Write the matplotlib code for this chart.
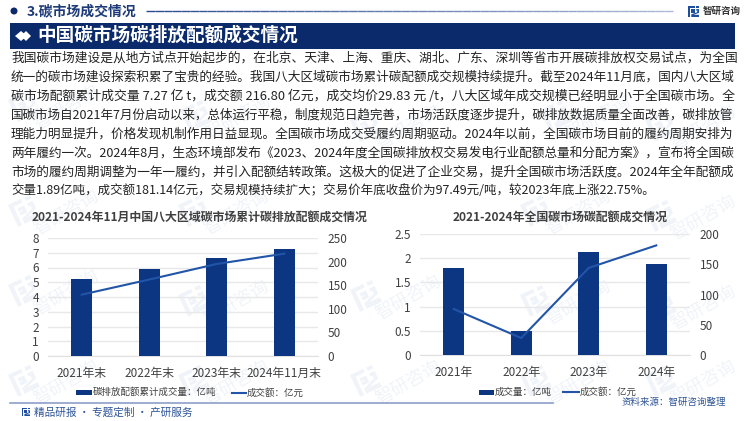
# -*- coding: utf-8 -*-
# 碳市场成交情况 チャート再現
import numpy as np
import matplotlib
matplotlib.use("Agg")
import matplotlib.pyplot as plt
from matplotlib.patches import Rectangle, Polygon, Circle
from matplotlib.lines import Line2D

plt.rcParams['font.family'] = ['Noto Sans CJK SC', 'DejaVu Sans']

W, H = 750, 421

# データ
left_labels = ["2021年末", "2022年末", "2023年末", "2024年11月末"]
left_volume = [5.25, 5.87, 6.62, 7.27]
left_amount = [130, 162, 195, 216.8]
right_labels = ["2021年", "2022年", "2023年", "2024年"]
right_volume = [1.8, 0.5, 2.12, 1.89]
right_amount = [76, 28, 144, 181.14]

left_title = "2021-2024年11月中国八大区域碳市场累计碳排放配额成交情况"
right_title = "2021-2024年全国碳市场碳配额成交情况"

body_lines = [
    "我国碳市场建设是从地方试点开始起步的，在北京、天津、上海、重庆、湖北、广东、深圳等省市开展碳排放权交易试点，为全国",
    "统一的碳市场建设探索积累了宝贵的经验。我国八大区域碳市场累计碳配额成交规模持续提升。截至2024年11月底，国内八大区域",
    "碳市场配额累计成交量 7.27 亿 t，成交额 216.80 亿元，成交均价29.83 元 /t，八大区域年成交规模已经明显小于全国碳市场。全",
    "国碳市场自2021年7月份启动以来，总体运行平稳，制度规范日趋完善，市场活跃度逐步提升，碳排放数据质量全面改善，碳排放管",
    "理能力明显提升，价格发现机制作用日益显现。全国碳市场成交受履约周期驱动。2024年以前，全国碳市场目前的履约周期安排为",
    "两年履约一次。2024年8月，生态环境部发布《2023、2024年度全国碳排放权交易发电行业配额总量和分配方案》，宣布将全国碳",
    "市场的履约周期调整为一年一履约，并引入配额结转政策。这极大的促进了企业交易，提升全国碳市场活跃度。2024年全年配额成",
    "交量1.89亿吨，成交额181.14亿元，交易规模持续扩大；交易价年底收盘价为97.49元/吨，较2023年底上涨22.75%。",
]

NAVY = "#0b2a6b"
BAR = "#0c3582"
LINE = "#2255a8"
GRAY = "#404040"
WM = "#f0f4f9"

fig = plt.figure(figsize=(W / 100, H / 100), dpi=100)
bg = fig.add_axes([0, 0, 1, 1])
bg.set_xlim(0, W)
bg.set_ylim(H, 0)
bg.axis("off")


def logo(ax, x, y, s, color, angle=0, z=1):
    """智研のロゴっぽい図形 (左の縦棒と右の折れ線)"""
    t = np.radians(angle)
    rot = np.array([[np.cos(t), -np.sin(t)], [np.sin(t), np.cos(t)]])
    shapes = [
        [(0, 0), (0.6, 0), (0.6, 0.16), (0.18, 0.16), (0.18, 1), (0, 1)],
        [(0.3, 0.3), (0.6, 0.3), (0.6, 0.62), (0.3, 0.62), (0.3, 0.48), (0.44, 0.48), (0.44, 0.44), (0.3, 0.44)],
        [(0.75, 0), (1, 0), (1, 0.16), (0.75, 0.16)],
        [(0.75, 0.28), (1, 0.28), (1, 0.62), (0.5, 0.8), (1, 0.8), (1, 1), (0.3, 1), (0.3, 0.76), (0.84, 0.56), (0.84, 0.42), (0.75, 0.42)],
    ]
    for pts in shapes:
        p = rot @ (np.array(pts).T * s)
        ax.add_patch(Polygon(np.c_[p[0] + x, p[1] + y], closed=True, fc=color, ec="none", zorder=z))


# 透かし
for wx, wy in [(8, 205), (8, 285), (8, 375), (178, 205), (178, 295), (178, 375), (350, 120), (350, 290),
               (520, 205), (520, 295), (645, 120), (645, 210), (645, 300),
               (8, 100), (180, 110), (540, 110), (350, 375), (520, 375), (645, 375)]:
    logo(bg, wx, wy, 24, WM, angle=-25)
    bg.text(wx + 58, wy + 8, "智研咨询", fontsize=13, color=WM, rotation=30,
            ha="center", va="center", zorder=1)

# ヘッダー
bg.add_patch(Circle((14, 11), 3.5, fc=NAVY, ec="none", zorder=3))
bg.text(27, 11.5, "3.碳市场成交情况", fontsize=10, fontweight="bold", color="#1d3a78",
        ha="left", va="center", zorder=3)
n_seg = 60
xs = np.linspace(146, 673, n_seg + 1)
c0 = np.array(matplotlib.colors.to_rgb("#2b4a8f"))
c1 = np.array(matplotlib.colors.to_rgb("#aebbd8"))
for i in range(n_seg):
    bg.plot(xs[i:i + 2], [11, 11], color=c0 + (c1 - c0) * i / n_seg, lw=1, solid_capstyle="butt", zorder=3)
logo(bg, 688, 6, 11, "#1d4f9e", z=3)
bg.text(703, 10.5, "智研咨询", fontsize=6.8, fontweight="bold", color="#333333", ha="left", va="center", zorder=3)

bg.add_patch(Rectangle((10, 23), 725, 26, fc=NAVY, ec="none", zorder=3))
bg.add_patch(Polygon([(15, 36), (21, 31), (27, 36), (21, 41)], fc="white", ec="none", zorder=4))
bg.add_patch(Polygon([(21, 36), (26, 31), (31, 36), (26, 41)], fc="white", ec="none", zorder=4))
bg.text(37, 35.5, "中国碳市场碳排放配额成交情况", fontsize=13.4, fontweight="bold", color="white",
        ha="left", va="center", zorder=4)

# 本文 (行末を揃える)
fig.canvas.draw()
rend = fig.canvas.get_renderer()
for i, s in enumerate(body_lines):
    t = bg.text(11, 58 + i * 19, s, fontsize=10, color="#222222", ha="left", va="center", zorder=3)
    target = 725 if i < len(body_lines) - 1 else 642
    t.set_fontsize(10 * target / t.get_window_extent(rend).width)


def combo(x0, x1, y0, y1, labels, vol, amt, ymax_l, yticks_l, yticklabels_l, ymax_r, yticks_r):
    """棒と折れ線の2軸グラフ (座標はピクセル指定)"""
    ax = fig.add_axes([x0 / W, 1 - y1 / H, (x1 - x0) / W, (y1 - y0) / H])
    ax.patch.set_alpha(0)
    x = np.arange(len(labels))
    ax.bar(x, vol, width=0.31, color=BAR, zorder=3)
    ax.set_xlim(-0.5, len(labels) - 0.5)
    ax.set_ylim(0, ymax_l)
    ax.set_yticks(yticks_l)
    ax.set_yticklabels(yticklabels_l)
    ax.set_xticks(x)
    ax.set_xticklabels(labels)
    ax.grid(axis="y", color="#e8e8e8", lw=1, zorder=0)
    ax.tick_params(length=0, labelsize=8.5, labelcolor=GRAY)
    ax.tick_params(axis="x", pad=8)
    ax.tick_params(axis="y", pad=6.5)
    for sp in ax.spines.values():
        sp.set_visible(False)
    ax.spines["bottom"].set_visible(True)
    ax.spines["bottom"].set_color("#e0e0e0")

    ax2 = ax.twinx()
    ax2.plot(x, amt, color=LINE, lw=1.5, zorder=5)
    ax2.set_ylim(0, ymax_r)
    ax2.set_yticks(yticks_r)
    ax2.tick_params(length=0, labelsize=8.5, labelcolor=GRAY, pad=7)
    for sp in ax2.spines.values():
        sp.set_visible(False)
    return ax


combo(48, 318, 238, 356, left_labels, left_volume, left_amount,
      8, list(range(9)), [str(v) for v in range(9)], 250, [0, 50, 100, 150, 200, 250])
combo(420, 690, 234, 355, right_labels, right_volume, right_amount,
      2.5, [0, 0.5, 1, 1.5, 2, 2.5], ["0", "0.5", "1", "1.5", "2", "2.5"], 200, [0, 50, 100, 150, 200])

# グラフタイトル
bg.text(200, 217.5, left_title, fontsize=8.6, fontweight="bold", color=GRAY, ha="center", va="center", zorder=3)
bg.text(560, 217, right_title, fontsize=8.6, fontweight="bold", color=GRAY, ha="center", va="center", zorder=3)

# 凡例
bg.add_patch(Rectangle((76, 390), 16, 5, fc=BAR, ec="none", zorder=3))
bg.text(93, 392.5, "碳排放配额累计成交量：亿吨", fontsize=6.8, color=GRAY, ha="left", va="center", zorder=3)
bg.add_line(Line2D([232, 246], [392.5, 392.5], color=LINE, lw=1.5, zorder=3))
bg.text(247, 392.5, "成交额：亿元", fontsize=6.8, color=GRAY, ha="left", va="center", zorder=3)
bg.add_patch(Rectangle((479, 389.5), 15, 5, fc=BAR, ec="none", zorder=3))
bg.text(495, 392, "成交量：亿吨", fontsize=6.8, color=GRAY, ha="left", va="center", zorder=3)
bg.add_line(Line2D([563, 579], [392, 392], color=LINE, lw=1.5, zorder=3))
bg.text(580, 392, "成交额：亿元", fontsize=6.8, color=GRAY, ha="left", va="center", zorder=3)

# フッター
bg.add_line(Line2D([10, 553], [402.5, 402.5], color="#8ea0c8", lw=1.2, zorder=3))
logo(bg, 22, 408, 8, "#1d4f9e", z=3)
bg.text(34, 413, "精品研报 · 专题定制 · 产研服务", fontsize=7.7, color="#2f5597", ha="left", va="center", zorder=3)
bg.text(622, 402, "资料来源：智研咨询整理", fontsize=6.8, color="#2f5597", ha="left", va="center", zorder=3)

fig.savefig("out.png", dpi=100)
